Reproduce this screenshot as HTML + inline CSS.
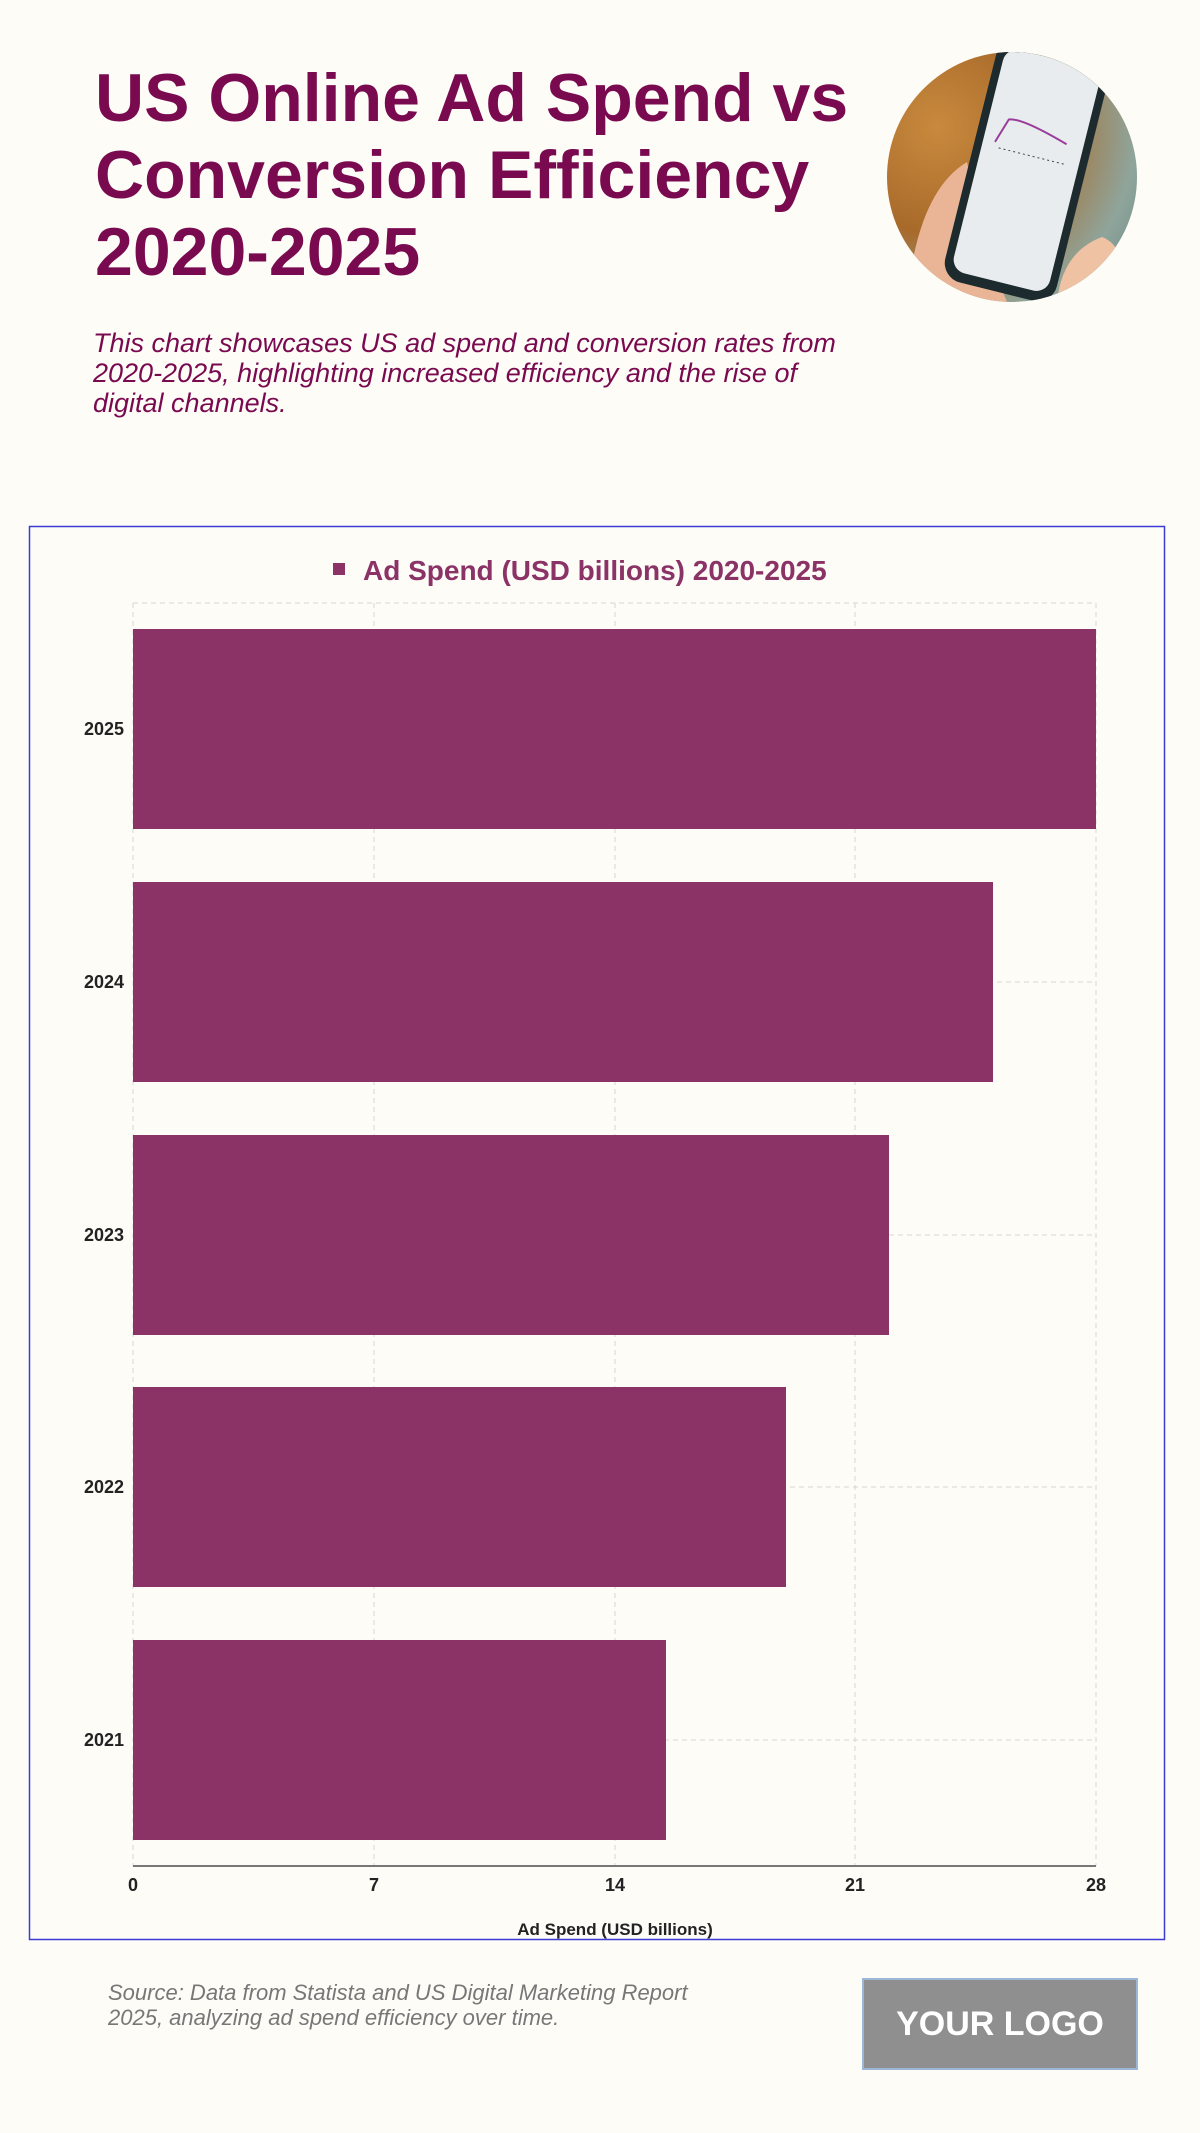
<!DOCTYPE html>
<html><head><meta charset="utf-8"><style>
html,body{margin:0;padding:0;background:#fdfcf7;}
body{width:1200px;height:2133px;position:relative;overflow:hidden;font-family:"Liberation Sans",sans-serif;}
.title{position:absolute;left:95px;top:60px;width:820px;font-size:68px;font-weight:bold;line-height:77px;color:#7a0a50;}
.sub{position:absolute;left:93px;top:328px;width:900px;font-size:27px;font-style:italic;line-height:30px;color:#7a0a50;}
.circle{position:absolute;left:887px;top:52px;width:250px;height:250px;border-radius:50%;overflow:hidden;background:radial-gradient(circle at 20% 30%,#c98a3e,#a86a2a 40%,#8fa59c 75%,#5e7e78);}
.src{position:absolute;left:108px;top:1980px;font-size:22px;font-style:italic;line-height:25px;color:#777;}
.logo{position:absolute;left:862px;top:1978px;width:272px;height:88px;background:#8f8f8f;border:2px solid #9bb8d6;color:#fff;font-weight:bold;font-size:34px;text-align:center;line-height:88px;}
</style></head><body>
<div class="title">US Online Ad Spend vs<br>Conversion Efficiency<br>2020-2025</div>
<div class="circle">
<svg width="250" height="250" viewBox="0 0 250 250">
<path d="M20 250 Q30 140 80 110 L100 200 L120 250Z" fill="#e9b596"/>
<g transform="rotate(14 125 125)">
<rect x="80" y="-10" width="115" height="250" rx="20" fill="#1d2b2e"/>
<rect x="88" y="0" width="99" height="230" rx="14" fill="#e8ecee"/>
<path d="M100 95 L108 70 Q120 65 170 80" stroke="#9a3d9a" stroke-width="2" fill="none"/>
<line x1="105" y1="100" x2="175" y2="100" stroke="#444" stroke-dasharray="2 3"/>
</g>
<path d="M170 250 Q175 200 215 185 Q240 195 230 230 L220 250Z" fill="#efc2a4"/>
</svg>
</div>
<div class="sub">This chart showcases US ad spend and conversion rates from<br>2020-2025, highlighting increased efficiency and the rise of<br>digital channels.</div>
<svg style="position:absolute;left:0;top:0" width="1200" height="2133">
<rect x="29.5" y="526.5" width="1135" height="1413" fill="#fdfcf7" stroke="#3d3dd6" stroke-width="1.5"/>
<rect x="333" y="563" width="12" height="12" fill="#8b3266"/>
<text x="363" y="580" font-family="Liberation Sans,sans-serif" font-size="28" font-weight="bold" fill="#8b3266">Ad Spend (USD billions) 2020-2025</text>
<g stroke="#d6d6d6" stroke-dasharray="5 4" stroke-width="1">
<line x1="133" y1="603" x2="1096" y2="603"/>
<line x1="133" y1="603" x2="133" y2="1866"/>
<line x1="374" y1="603" x2="374" y2="1866"/>
<line x1="615" y1="603" x2="615" y2="1866"/>
<line x1="855" y1="603" x2="855" y2="1866"/>
<line x1="1096" y1="603" x2="1096" y2="1866"/>
<line x1="133" y1="729" x2="1096" y2="729"/>
<line x1="133" y1="982" x2="1096" y2="982"/>
<line x1="133" y1="1235" x2="1096" y2="1235"/>
<line x1="133" y1="1487" x2="1096" y2="1487"/>
<line x1="133" y1="1740" x2="1096" y2="1740"/>
</g>
<g fill="#8b3266">
<rect x="133" y="629" width="963" height="200"/>
<rect x="133" y="882" width="860" height="200"/>
<rect x="133" y="1135" width="756" height="200"/>
<rect x="133" y="1387" width="653" height="200"/>
<rect x="133" y="1640" width="533" height="200"/>
</g>
<line x1="133" y1="1866" x2="1096" y2="1866" stroke="#777" stroke-width="2"/>
<g font-family="Liberation Sans,sans-serif" font-size="18" font-weight="bold" fill="#222" text-anchor="end">
<text x="124" y="735">2025</text><text x="124" y="988">2024</text><text x="124" y="1241">2023</text><text x="124" y="1493">2022</text><text x="124" y="1746">2021</text>
</g>
<g font-family="Liberation Sans,sans-serif" font-size="18" font-weight="bold" fill="#222" text-anchor="middle">
<text x="133" y="1891">0</text><text x="374" y="1891">7</text><text x="615" y="1891">14</text><text x="855" y="1891">21</text><text x="1096" y="1891">28</text>
<text x="615" y="1935" font-size="17">Ad Spend (USD billions)</text>
</g>
</svg>
<div class="src">Source: Data from Statista and US Digital Marketing Report<br>2025, analyzing ad spend efficiency over time.</div>
<div class="logo">YOUR LOGO</div>
</body></html>
